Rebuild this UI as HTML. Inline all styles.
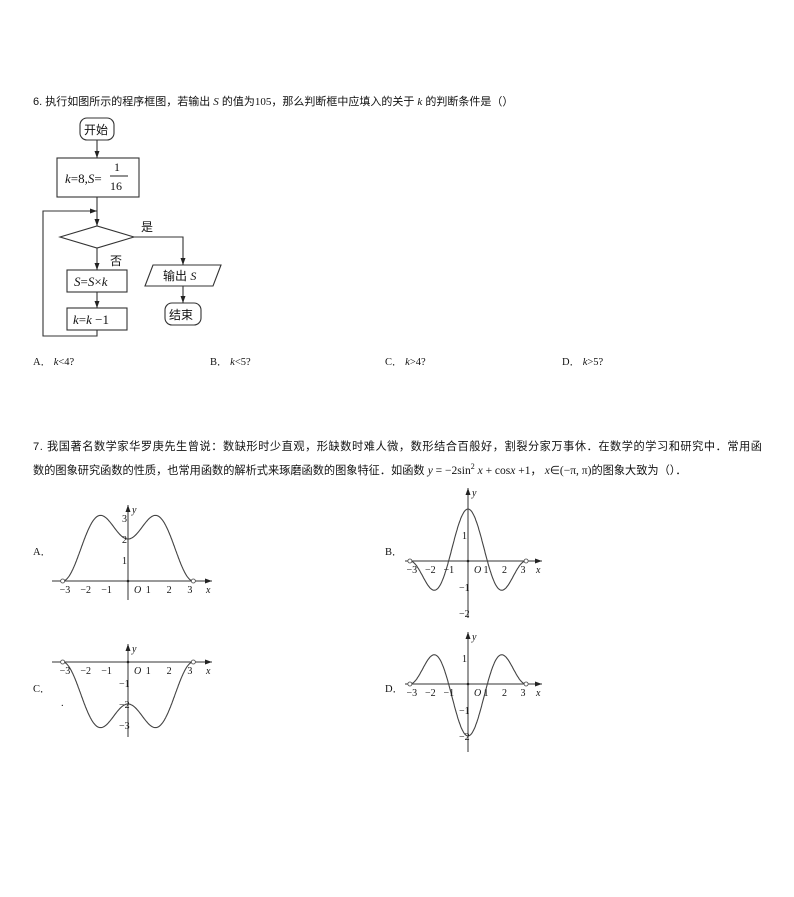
<!DOCTYPE html>
<html><head><meta charset="utf-8"><style>
body{margin:0;background:#fff;width:794px;height:897px;overflow:hidden;font-family:"Liberation Serif","Noto Serif CJK SC",serif;}
svg{position:absolute;left:0;top:0}
text{fill:#111}
.cn{font-family:"Liberation Sans","Noto Sans CJK SC",sans-serif}
</style></head><body>
<svg width="794" height="897" viewBox="0 0 794 897" xmlns="http://www.w3.org/2000/svg">
<defs><marker id="ar" markerWidth="8" markerHeight="8" refX="7" refY="4" orient="auto" markerUnits="userSpaceOnUse"><path d="M0,1.5 L7,4 L0,6.5 Z" fill="#222"/></marker></defs>
<g font-size="11" class="cn">
<text x="33" y="105">6. 执行如图所示的程序框图，若输出 <tspan font-style="italic" font-family="Liberation Serif">S</tspan> 的值为<tspan font-family="Liberation Serif">105</tspan>，那么判断框中应填入的关于 <tspan font-style="italic" font-family="Liberation Serif">k</tspan> 的判断条件是（）</text>
</g>
<g stroke="#333" stroke-width="1.1" fill="none">
<rect x="80" y="118" width="34" height="22" rx="7"/>
<line x1="97" y1="140" x2="97" y2="158" marker-end="url(#ar)"/>
<rect x="57" y="158" width="82" height="39"/>
<line x1="97" y1="197" x2="97" y2="226" marker-end="url(#ar)"/>
<polyline points="97,330 97,336 43,336 43,211 97,211" marker-end="url(#ar)"/>
<polygon points="60,237 97,226 134,237 97,248"/>
<line x1="97" y1="248" x2="97" y2="270" marker-end="url(#ar)"/>
<rect x="67" y="270" width="60" height="22"/>
<line x1="97" y1="292" x2="97" y2="308" marker-end="url(#ar)"/>
<rect x="67" y="308" width="60" height="22"/>
<polyline points="134,237 183,237 183,265" marker-end="url(#ar)"/>
<polygon points="153,265 221,265 213,286 145,286"/>
<line x1="183" y1="286" x2="183" y2="303" marker-end="url(#ar)"/>
<rect x="165" y="303" width="36" height="22" rx="7"/>
</g>
<g font-size="13">
<text x="84" y="134" class="cn" font-size="12">开始</text>
<text x="65" y="183" font-style="italic">k<tspan font-style="normal">=8,</tspan>S<tspan font-style="normal">=</tspan></text>
<text x="114" y="171" font-size="12">1</text>
<line x1="110" y1="176" x2="128" y2="176" stroke="#222"/>
<text x="110" y="190" font-size="12">16</text>
<text x="141" y="231" class="cn" font-size="12">是</text>
<text x="110" y="265" class="cn" font-size="12">否</text>
<text x="74" y="286" font-style="italic">S<tspan font-style="normal">=</tspan>S<tspan font-style="normal">×</tspan>k</text>
<text x="73" y="324" font-style="italic">k<tspan font-style="normal">=</tspan>k<tspan font-style="normal"> −1</tspan></text>
<text x="163" y="280" class="cn" font-size="12">输出 <tspan font-family="Liberation Serif" font-style="italic">S</tspan></text>
<text x="169" y="319" class="cn" font-size="12">结束</text>
</g>
<g font-size="10.5">
<text x="33" y="365">A． <tspan font-style="italic">k</tspan>&lt;4?</text>
<text x="210" y="365">B． <tspan font-style="italic">k</tspan>&lt;5?</text>
<text x="385" y="365">C． <tspan font-style="italic">k</tspan>&gt;4?</text>
<text x="562" y="365">D． <tspan font-style="italic">k</tspan>&gt;5?</text>
</g>
<g font-size="11.2" class="cn">
<text x="33" y="450" textLength="729">7. 我国著名数学家华罗庚先生曾说：数缺形时少直观，形缺数时难人微，数形结合百般好，割裂分家万事休．在数学的学习和研究中．常用函</text>
<text x="33" y="474">数的图象研究函数的性质，也常用函数的解析式来琢磨函数的图象特征．如函数 <tspan font-family="Liberation Serif" font-size="11.5"><tspan font-style="italic">y</tspan> = −2sin<tspan dy="-5" font-size="8">2</tspan><tspan dy="5"> </tspan><tspan font-style="italic">x</tspan> + cos<tspan font-style="italic">x</tspan> +1</tspan>， <tspan font-family="Liberation Serif" font-size="11.5"><tspan font-style="italic">x</tspan>∈(−π, π)</tspan>的图象大致为（）．</text>
</g>
<g font-size="10.5">
<text x="33" y="555">A．</text><text x="385" y="555">B．</text>
<text x="33" y="692">C．</text><text x="385" y="692">D．</text>
<text x="61" y="706">.</text>
</g>
<g id="graphs"></g>
</svg>
<script>
var NS="http://www.w3.org/2000/svg",G=document.getElementById('graphs');
function el(t,a,txt){var e=document.createElementNS(NS,t);for(var k in a)e.setAttribute(k,a[k]);if(txt!=null)e.textContent=txt;G.appendChild(e);return e;}
function graph(ox,oy,ux,uy,f,xl,xr,yt,yb,yticks,xlabY){
 el('line',{x1:xl,y1:oy,x2:xr,y2:oy,stroke:'#333','stroke-width':1,'marker-end':'url(#ar)'});
 el('line',{x1:ox,y1:yb,x2:ox,y2:yt,stroke:'#333','stroke-width':1,'marker-end':'url(#ar)'});
 var d='';for(var i=0;i<=300;i++){var x=-Math.PI+2*Math.PI*i/300;d+=(i?'L':'M')+(ox+x*ux).toFixed(1)+','+(oy-f(x)*uy).toFixed(1);}
 el('path',{d:d,fill:'none',stroke:'#444','stroke-width':1.1});
 el('circle',{cx:ox-Math.PI*ux,cy:oy-f(-Math.PI)*uy,r:2,fill:'#fff',stroke:'#444','stroke-width':0.8});
 el('circle',{cx:ox+Math.PI*ux,cy:oy-f(Math.PI)*uy,r:2,fill:'#fff',stroke:'#444','stroke-width':0.8});
 el('circle',{cx:ox,cy:oy,r:1.3,fill:'#222'});
 [-3,-2,-1,1,2,3].forEach(function(n){el('text',{x:ox+n*ux-(n<0?6:3),y:oy+xlabY,'font-size':10},n<0?'−'+(-n):n);});
 el('text',{x:ox+6,y:oy+xlabY,'font-size':10,'font-style':'italic'},'O');
 el('text',{x:xr-6,y:oy+xlabY,'font-size':10,'font-style':'italic'},'x');
 el('text',{x:ox+4,y:yt+8,'font-size':10,'font-style':'italic'},'y');
 yticks.forEach(function(n){el('text',{x:ox-(n<0?9:6),y:oy-n*uy+4,'font-size':10},n<0?'−'+(-n):n);});
}
var fA=function(x){return 2*Math.pow(Math.sin(x),2)+Math.cos(x)+1;};
var fB=function(x){return -2*Math.pow(Math.sin(x),2)+Math.cos(x)+1;};
graph(128,581,20.8,21,fA,52,212,505,600,[1,2,3],12);
graph(468,561,18.5,26,fB,405,542,488,618,[1,-1,-2],12);
graph(128,662,20.8,21,function(x){return -fA(x);},52,212,644,737,[-1,-2,-3],12);
graph(468,684,18.5,26,function(x){return -fB(x);},405,542,632,752,[1,-1,-2],12);
</script>
</body></html>
